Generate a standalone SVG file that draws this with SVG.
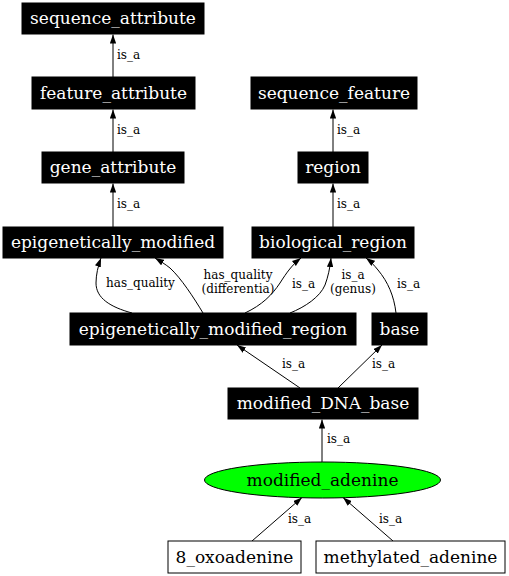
<svg xmlns="http://www.w3.org/2000/svg" width="509" height="576" viewBox="0 0 509 576">
<defs>
<style>
.n rect{fill:#000;stroke:#000;stroke-width:1}
.n text{font-family:"DejaVu Serif","Liberation Serif",serif;font-size:17px;fill:#fff;text-anchor:middle}
.w rect{fill:#fff;stroke:#000;stroke-width:1}
.w text{fill:#000}
.e path{fill:none;stroke:#000;stroke-width:1;marker-end:url(#ah)}
.e text{font-family:"DejaVu Serif","Liberation Serif",serif;font-size:12px;fill:#000}
.c{text-anchor:middle}
</style>
<marker id="ah" viewBox="0 0 10 7" refX="10" refY="3.5" markerWidth="9" markerHeight="6.5" markerUnits="userSpaceOnUse" orient="auto">
<path d="M0,0 L10,3.5 L0,7 z" fill="#000"/>
</marker>
</defs>
<g id="edges" class="e">
<path d="M113,77 L113,34.5"/>
<text x="117" y="59">is_a</text>
<path d="M113,152 L113,109.5"/>
<text x="117" y="134">is_a</text>
<path d="M113,227 L113,183.5"/>
<text x="117" y="208">is_a</text>
<path d="M333,152 L333,109.5"/>
<text x="337" y="134">is_a</text>
<path d="M333,227 L333,183.5"/>
<text x="337" y="208">is_a</text>
<path d="M132,313 C110,307 96,298 96,283 C96,275 98,266 101,258"/>
<text x="106" y="287">has_quality</text>
<path d="M203,313 C194,298 181,278 170,268 C165,264 160,261 155,258"/>
<text x="238" y="279" class="c">has_quality</text>
<text x="238" y="293" class="c">(differentia)</text>
<path d="M245,313 C262,305 272,295 280,283 C287,272 292,265 301,258"/>
<text x="292" y="288">is_a</text>
<path d="M290,313 C305,307 320,297 325,285 C328,277 330,268 331,258"/>
<text x="353" y="279" class="c">is_a</text>
<text x="353" y="293" class="c">(genus)</text>
<path d="M396,313 C394,296 388,282 378,270 C374,265 370,261 366,258"/>
<text x="397" y="288">is_a</text>
<path d="M300,388 L237,345"/>
<text x="282" y="368">is_a</text>
<path d="M338,388 L382,345"/>
<text x="372" y="368">is_a</text>
<path d="M322,462 L322,419.5"/>
<text x="327" y="443">is_a</text>
<path d="M252,541 L302,497.5"/>
<text x="288" y="523">is_a</text>
<path d="M393,541 L343,497.5"/>
<text x="379" y="523">is_a</text>
</g>
<g id="sequence_attribute" class="n"><rect x="22" y="3" width="182" height="31"/><text x="113" y="24">sequence_attribute</text></g>
<g id="feature_attribute" class="n"><rect x="32" y="77" width="163" height="32"/><text x="113.5" y="98.5">feature_attribute</text></g>
<g id="gene_attribute" class="n"><rect x="42" y="152" width="142" height="31"/><text x="113" y="173">gene_attribute</text></g>
<g id="epigenetically_modified" class="n"><rect x="3" y="227" width="220" height="31"/><text x="113" y="248">epigenetically_modified</text></g>
<g id="sequence_feature" class="n"><rect x="251" y="77" width="166" height="32"/><text x="334" y="98.5">sequence_feature</text></g>
<g id="region" class="n"><rect x="298" y="152" width="70" height="31"/><text x="333" y="173">region</text></g>
<g id="biological_region" class="n"><rect x="252" y="227" width="162" height="31"/><text x="333" y="248">biological_region</text></g>
<g id="epigenetically_modified_region" class="n"><rect x="70" y="313" width="286" height="32"/><text x="213" y="334.5">epigenetically_modified_region</text></g>
<g id="base" class="n"><rect x="372" y="313" width="55" height="32"/><text x="399.5" y="334.5">base</text></g>
<g id="modified_DNA_base" class="n"><rect x="228" y="388" width="190" height="31"/><text x="323" y="409">modified_DNA_base</text></g>
<g id="modified_adenine" class="n w"><ellipse cx="322.5" cy="480" rx="118" ry="18" fill="#00ff00" stroke="#000"/><text x="322.5" y="486">modified_adenine</text></g>
<g id="oxoadenine_8" class="n w"><rect x="168" y="541" width="133" height="32"/><text x="234.5" y="562.5">8_oxoadenine</text></g>
<g id="methylated_adenine" class="n w"><rect x="316" y="541" width="189" height="32"/><text x="410.5" y="562.5">methylated_adenine</text></g>
</svg>
